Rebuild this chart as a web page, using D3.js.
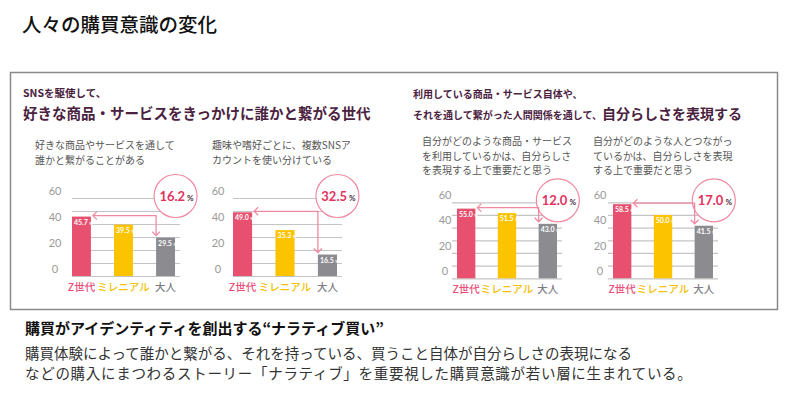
<!DOCTYPE html>
<html>
<head>
<meta charset="utf-8">
<script src="https://cdn.jsdelivr.net/npm/d3@7"></script>
<style>
body { margin: 0; background: #fff; }
text { font-family: "Noto Sans CJK JP", "Noto Sans", sans-serif; }
.num { font-family: Lato, "Noto Sans", sans-serif; }
</style>
</head>
<body>
<div id="chart-area"></div>
<script>
// data
var categories = ["Z世代", "ミレニアル", "大人"];
var values1 = [45.7, 39.5, 29.5];
var values2 = [49.0, 35.3, 16.5];
var values3 = [55.0, 51.5, 43.0];
var values4 = [58.5, 50.0, 41.5];
var gaps = [16.2, 32.5, 12.0, 17.0];
var labelTicks = [0, 20, 40, 60];
var gridTicks = [0, 10, 20, 30, 40, 50, 60];
var captions = [
  ["好きな商品やサービスを通して", "誰かと繋がることがある"],
  ["趣味や嗜好ごとに、複数SNSア", "カウントを使い分けている"],
  ["自分がどのような商品・サービス", "を利用しているかは、自分らしさ", "を表現する上で重要だと思う"],
  ["自分がどのような人とつながっ", "ているかは、自分らしさを表現", "する上で重要だと思う"]
];

var catColor = d3.scaleOrdinal().domain(categories).range(["#e8507a", "#f4c000", "#7e7e82"]);
var barColor = d3.scaleOrdinal().domain(categories).range(["#e8506f", "#fcc400", "#8b8b90"]);
var pink = "#f08aa2";

var svg = d3.select("#chart-area").append("svg")
  .attr("width", 800)
  .attr("height", 396);

// title
svg.append("text")
  .attr("x", 22).attr("y", 32)
  .attr("font-size", "19.5px")
  .attr("font-weight", 500)
  .attr("fill", "#111")
  .text("人々の購買意識の変化");

// frame
svg.append("rect")
  .attr("x", 10.5).attr("y", 72.5)
  .attr("width", 767).attr("height", 237)
  .attr("fill", "none")
  .attr("stroke", "#8a8a8a")
  .attr("stroke-width", 1.5);

// headers
var purple = "#4a2240";
svg.append("text").attr("x", 23).attr("y", 97)
  .attr("font-size", "10.5px").attr("font-weight", 700).attr("fill", purple)
  .text("SNSを駆使して、");
svg.append("text").attr("x", 23).attr("y", 118.5)
  .attr("font-size", "14.5px").attr("font-weight", 700).attr("fill", purple)
  .text("好きな商品・サービスをきっかけに誰かと繋がる世代");

svg.append("text").attr("x", 413).attr("y", 97.5)
  .attr("font-size", "10px").attr("font-weight", 700).attr("fill", purple)
  .text("利用している商品・サービス自体や、");
var h2 = svg.append("text").attr("x", 413).attr("y", 118.5)
  .attr("font-weight", 700).attr("fill", purple);
h2.append("tspan").attr("font-size", "10px").text("それを通して繋がった人間関係を通して、");
h2.append("tspan").attr("font-size", "14px").text("自分らしさを表現する");

// chart layouts
var charts = [
  {vals: values1, bx0: 72, bx1: 175, gx0: 72, gx1: 180, base: 276, top: 198, lx: 55, cx: 35, cy: 145},
  {vals: values2, bx0: 233, bx1: 337, gx0: 233, gx1: 342, base: 276, top: 198, lx: 218, cx: 212, cy: 145},
  {vals: values3, bx0: 457, bx1: 557, gx0: 452, gx1: 562, base: 278.3, top: 202.3, lx: 445, cx: 422, cy: 141},
  {vals: values4, bx0: 613, bx1: 713, gx0: 608, gx1: 718, base: 278.3, top: 202.3, lx: 600, cx: 593, cy: 141}
];

charts.forEach(function(c, ci) {
  var x = d3.scaleBand().domain(categories).range([c.bx0, c.bx1]).paddingInner(0.55).paddingOuter(0);
  var y = d3.scaleLinear().domain([0, 60]).range([c.base, c.top]);
  var g = svg.append("g");

  // caption
  g.selectAll(".cap").data(captions[ci]).enter()
    .append("text")
      .attr("x", c.cx)
      .attr("y", function(d, i) { return c.cy + 4 + i * 14.5; })
      .attr("font-size", "10px")
      .attr("fill", "#555")
      .text(function(d) { return d; });

  // grid
  var grid = g.append("g")
    .attr("transform", "translate(" + c.gx0 + ",0)")
    .call(d3.axisLeft(y).tickValues(gridTicks).tickSize(-(c.gx1 - c.gx0)).tickFormat(""));
  grid.select(".domain").remove();
  grid.selectAll("line").attr("stroke", "#c4c4c4").attr("stroke-width", 1.2);

  // y labels
  var ya = g.append("g")
    .attr("transform", "translate(" + (c.lx + 6) + ",0)")
    .call(d3.axisLeft(y).tickValues(labelTicks).tickSize(0).tickPadding(0));
  ya.select(".domain").remove();
  ya.selectAll("text")
    .attr("class", "num")
    .attr("text-anchor", "middle")
    .attr("x", -6)
    .attr("dy", "-0.35em")
    .attr("font-size", "11px")
    .attr("fill", "#9a9a9a");

  // bars
  g.selectAll("rect.bar").data(c.vals).enter()
    .append("rect")
      .attr("class", "bar")
      .attr("x", function(d, i) { return x(categories[i]); })
      .attr("y", function(d) { return y(d); })
      .attr("width", x.bandwidth())
      .attr("height", function(d) { return y(0) - y(d); })
      .attr("fill", function(d, i) { return barColor(categories[i]); });

  // bar labels
  var bl = g.selectAll("text.bl").data(c.vals).enter()
    .append("text")
      .attr("class", "num bl")
      .attr("x", function(d, i) { return x(categories[i]) + 2; })
      .attr("y", function(d) { return y(d) + 8; })
      .attr("font-size", "7px")
      .attr("font-weight", 700)
      .attr("fill", "#fff");
  bl.append("tspan").text(function(d) { return d.toFixed(1); });
  bl.append("tspan").attr("font-size", "4.5px").attr("dx", 1.5).text("%");

  // category labels
  g.selectAll("text.cat").data(categories).enter()
    .append("text")
      .attr("class", "cat")
      .attr("x", function(d) { return x(d) + x.bandwidth() / 2; })
      .attr("y", c.base + 15)
      .attr("text-anchor", "middle")
      .attr("font-size", "10.5px")
      .attr("font-weight", 500)
      .attr("fill", function(d) { return catColor(d); })
      .text(function(d) { return d; });

  // circle callout
  var ox = x(categories[2]) + x.bandwidth() / 2 + 10;
  var oy = y(60) - 2;
  g.append("circle")
    .attr("cx", ox).attr("cy", oy).attr("r", 21.5)
    .attr("fill", "#fff")
    .attr("stroke", pink)
    .attr("stroke-width", 1.2);
  var ct = g.append("text")
    .attr("class", "num")
    .attr("x", ox + 1).attr("y", oy + 4.5)
    .attr("text-anchor", "middle")
    .attr("font-weight", 700);
  ct.append("tspan").attr("font-size", "13px").attr("fill", "#e2325e").text(gaps[ci].toFixed(1));
  ct.append("tspan").attr("font-size", "8px").attr("fill", "#4a3040").attr("dx", 2).text("%");

  // arrow
  var ay = y(c.vals[0]) - 1;
  var ax0 = x(categories[0]) + x.bandwidth() + 2;
  var ax1 = x(categories[2]);
  var ay1 = y(c.vals[2]) - 2;
  g.append("path")
    .attr("d", "M" + ax0 + "," + ay + "H" + ax1 + "V" + ay1)
    .attr("fill", "none").attr("stroke", pink).attr("stroke-width", 1.3);
  g.append("path")
    .attr("d", "M" + (ax0 + 4) + "," + (ay - 4) + "L" + ax0 + "," + ay + "L" + (ax0 + 4) + "," + (ay + 4))
    .attr("fill", "none").attr("stroke", pink).attr("stroke-width", 1.3);
  g.append("path")
    .attr("d", "M" + (ax1 - 4) + "," + (ay1 - 4) + "L" + ax1 + "," + ay1 + "L" + (ax1 + 4) + "," + (ay1 - 4))
    .attr("fill", "none").attr("stroke", pink).attr("stroke-width", 1.3);
});

// bottom text
svg.append("text").attr("x", 25).attr("y", 334)
  .attr("font-size", "15px").attr("font-weight", 700).attr("fill", "#111")
  .text("購買がアイデンティティを創出する“ナラティブ買い”");
svg.append("text").attr("x", 25).attr("y", 359)
  .attr("font-size", "14.5px").attr("fill", "#333")
  .text("購買体験によって誰かと繋がる、それを持っている、買うこと自体が自分らしさの表現になる");
svg.append("text").attr("x", 25).attr("y", 379)
  .attr("font-size", "14.5px").attr("fill", "#333")
  .attr("letter-spacing", "0.7px")
  .text("などの購入にまつわるストーリー「ナラティブ」を重要視した購買意識が若い層に生まれている。");
</script>
</body>
</html>
